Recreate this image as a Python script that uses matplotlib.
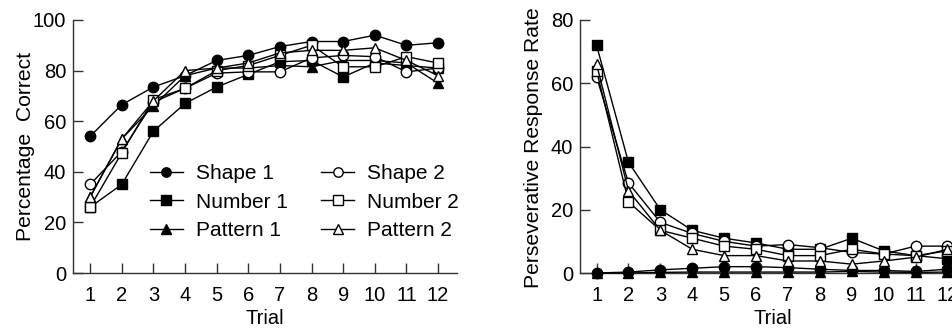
import matplotlib
matplotlib.use("Agg")
import matplotlib.pyplot as plt

plt.rcParams["font.family"] = ["Liberation Sans", "DejaVu Sans"]
plt.rcParams["font.size"] = 14.5

trials = list(range(1, 13))

# Percentage correct (left panel)
correct_shape1 = [54, 66.5, 73.5, 78, 84, 86, 89.5, 91.5, 91.5, 94, 90, 91]
correct_number1 = [26, 35, 56, 67, 73.5, 78.5, 83.5, 84, 77.5, 83, 82, 81]
correct_pattern1 = [30, 53, 66, 78, 81, 81, 82, 81.5, 84, 84, 83, 75]
correct_shape2 = [35, 48, 67.5, 73, 79, 79.5, 79.5, 85, 86, 85.5, 79.5, 81]
correct_number2 = [26, 47.5, 68.5, 73, 80, 82, 86, 90, 81.5, 81.5, 85.5, 83]
correct_pattern2 = [30, 53, 68, 80, 81, 83, 87, 88, 88, 89, 84, 78]

# Perseverative response rate (right panel)
persev_shape1 = [0, 0.3, 1.0, 1.5, 2.0, 2.0, 1.7, 1.2, 0.8, 0.8, 0.5, 1.2]
persev_number1 = [72, 35, 20, 13.5, 11, 9.5, 7.5, 7.5, 11, 7, 5.5, 4.5]
persev_pattern1 = [0, 0, 0.2, 0.3, 0.3, 0.3, 0.3, 0.3, 0.5, 0.3, 0.2, 0.3]
persev_shape2 = [62, 28.5, 16, 12.5, 10, 8.5, 9, 8, 6.5, 6, 8.5, 8.5]
persev_number2 = [64, 22.5, 13.5, 11, 8.5, 7.5, 5.5, 5.5, 7.5, 6, 5.5, 7]
persev_pattern2 = [66, 26, 13.5, 7.5, 5.5, 5.5, 3.8, 3.8, 2.8, 3.8, 5, 7.5]

labels = ["Shape 1", "Number 1", "Pattern 1", "Shape 2", "Number 2", "Pattern 2"]
markers = ["o", "s", "^", "o", "s", "^"]
faces = ["black", "black", "black", "white", "white", "white"]


def style_axes(ax, ylim, yticks):
    for side in ["top", "right"]:
        ax.spines[side].set_visible(False)
    for side in ["left", "bottom"]:
        ax.spines[side].set_linewidth(1.0)
        ax.spines[side].set_color("#333333")
    ax.set_ylim(*ylim)
    ax.set_yticks(yticks)
    ax.set_xlim(0.46, 12.6)
    ax.set_xticks(trials)
    ax.tick_params(direction="in", length=7, width=1.0, color="#333333")
    ax.tick_params(axis="y", pad=5)
    ax.tick_params(axis="x", pad=9)
    ax.set_xlabel("Trial", labelpad=3)


def draw(ax, series):
    handles = []
    for vals, lab, m, fc in zip(series, labels, markers, faces):
        h, = ax.plot(trials, vals, color="black", lw=1.0, marker=m,
                     markersize=7.5, markerfacecolor=fc,
                     markeredgecolor="black", markeredgewidth=1.0,
                     label=lab, clip_on=False, zorder=3)
        handles.append(h)
    return handles


fig = plt.figure(figsize=(9.53, 3.3), dpi=100)
ax1 = fig.add_axes([0.0766, 0.1727, 0.403, 0.7667])
ax2 = fig.add_axes([0.6086, 0.1727, 0.4057, 0.7667])

handles = draw(ax1, [correct_shape1, correct_number1, correct_pattern1,
                     correct_shape2, correct_number2, correct_pattern2])
style_axes(ax1, (0, 100), [0, 20, 40, 60, 80, 100])
ax1.set_ylabel("Percentage  Correct", fontsize=15.2)
ax1.yaxis.set_label_coords(-0.1, 0.5)

ax1.legend(handles=handles, ncol=2, frameon=False, loc="upper left",
           bbox_to_anchor=(0.2, 0.43), handlelength=1.6, handletextpad=0.6,
           columnspacing=1.6, labelspacing=0.45, markerscale=0.9,
           borderaxespad=0, borderpad=0, fontsize=15)

draw(ax2, [persev_shape1, persev_number1, persev_pattern1,
           persev_shape2, persev_number2, persev_pattern2])
style_axes(ax2, (0, 80), [0, 20, 40, 60, 80])
ax2.set_xlim(0.48, 12.6)
ax2.set_ylabel("Perseverative Response Rate", fontsize=15.2)
ax2.yaxis.set_label_coords(-0.096, 0.496)

fig.savefig("out.png", dpi=100)
